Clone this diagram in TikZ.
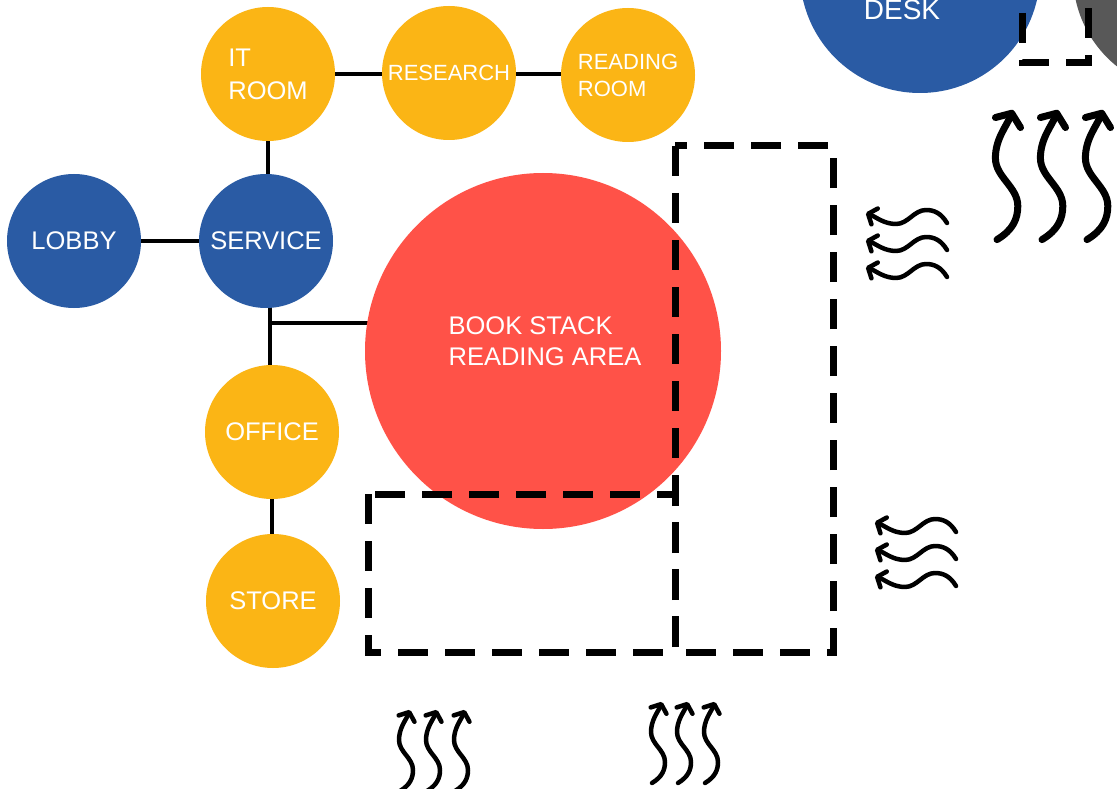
\documentclass[tikz,border=0pt]{standalone}
\usepackage{fontspec}
\setmainfont{Liberation Sans}
\usetikzlibrary{arrows.meta}
\pgfdeclarelayer{paper}
\pgfdeclarelayer{links}
\pgfsetlayers{paper,links,main}

\definecolor{roomyellow}{HTML}{FBB515}
\definecolor{roomblue}{HTML}{2A5BA4}
\definecolor{stackred}{HTML}{FF5248}
\definecolor{deskgray}{HTML}{585858}

\tikzset{
  room/.style={circle, minimum size=134pt, inner sep=0pt, text=white,
               font=\fontsize{25.5}{33}\selectfont, align=left},
  yel/.style={room, fill=roomyellow},
  blu/.style={room, fill=roomblue},
  link/.style={line width=4.5pt},
  zone/.style={line width=7pt, dash pattern=on 30pt off 17pt},
  flowline/.style={line width=4.5pt, line cap=round, line join=round,
                   -{Straight Barb[length=7pt,width=17pt,round]}},
  ripple/.pic={\draw[flowline] (81,10) .. controls (75,0) and (68,-3) .. (60,-3)
        .. controls (48,-3) and (42,11) .. (30,11)
        .. controls (18,11) and (10,4) .. (0,0);}
}

\begin{document}
\begin{tikzpicture}[x=1pt, y=-1pt]
\useasboundingbox (0,0) rectangle (1117,789);
\begin{pgfonlayer}{paper}
  \fill[white] (0,0) rectangle (1117,789);
\end{pgfonlayer}
\clip (0,0) rectangle (1117,789);

% circulation desk and neighbouring space, cut by the top edge
\node[circle, fill=deskgray, minimum size=234pt, inner sep=0pt] (annex) at (1190,-25) {};
\node[blu, minimum size=240pt] (desk) at (920,-27) {};
\node[text=white, font=\fontsize{28}{30}\selectfont, inner sep=0pt] (desklabel) at (902,10) {DESK};
\draw[zone] (1022,-81) -- (1022,63) -- (1088,63) -- (1088,-81);

% rooms
\node[yel] (it) at (268,74) {IT\\ROOM};
\node[yel, font=\fontsize{22}{28}\selectfont] (research) at (449,73) {RESEARCH};
\node[yel, font=\fontsize{22}{27}\selectfont] (reading) at (628,75) {READING\\ROOM};
\node[blu] (lobby) at (74,241) {LOBBY};
\node[blu] (service) at (266,241) {SERVICE};
\node[yel] (office) at (272,432) {OFFICE};
\node[yel] (store) at (273,601) {STORE};
\node[circle, fill=stackred, minimum size=356pt, inner sep=0pt] (stack) at (543,351) {};
\node[text=white, font=\fontsize{25.5}{31}\selectfont, align=left, inner sep=0pt]
  (stacklabel) at (545,341) {BOOK STACK\\READING AREA};

% connections between rooms
\coordinate (junction) at (270,323);
\begin{pgfonlayer}{links}
  \draw[link] (it.center) -- (it.center -| reading.center);
  \draw[link] (it.center) -- (it.center |- service.center);
  \draw[link] (lobby) -- (service);
  \draw[link] (junction |- service.center) -- (junction |- office.center);
  \draw[link] (junction) -- (junction -| stack.center);
  \draw[link] (office.center) -- (office.center |- store.center);
\end{pgfonlayer}

% open zones
\draw[zone] (368,494) rectangle (675,652);
\draw[zone] (675,146) rectangle (833,652);

% air and light flows
\foreach \x in {410,437,465} \pic[rotate=-90] at (\x,710) {ripple};
\foreach \x in {662,688,715} \pic[rotate=-90] at (\x,702) {ripple};
\foreach \y in {213,240,267} \pic at (866,\y) {ripple};
\foreach \y in {522,549,576} \pic at (875,\y) {ripple};
\begin{scope}[flowline/.style={line width=7pt, line cap=round, line join=round,
                   -{Straight Barb[length=10pt,width=27pt,round]}}]
  \foreach \x in {1013,1058,1103} \pic[rotate=-90, scale=1.6] at (\x,110) {ripple};
\end{scope}
\end{tikzpicture}
\end{document}
